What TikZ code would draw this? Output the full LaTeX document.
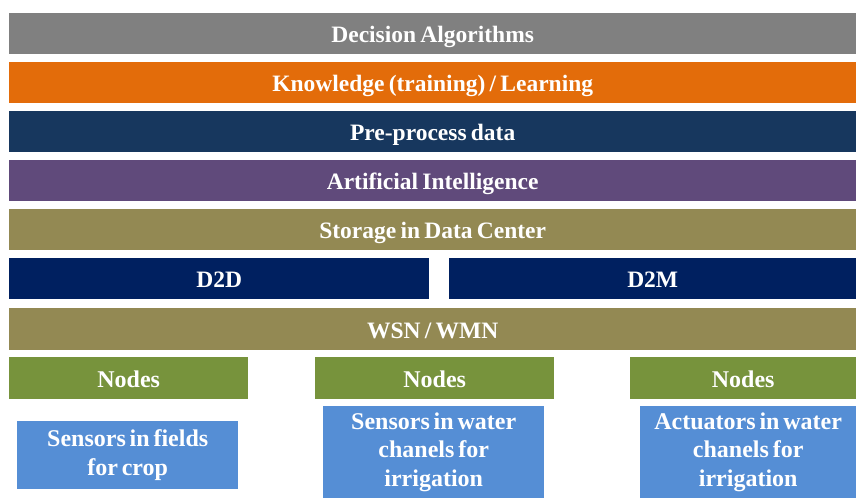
\documentclass[tikz,border=0pt]{standalone}
\usepackage{fontspec}
\setmainfont{Liberation Serif}
\usetikzlibrary{positioning}

\definecolor{barGray}{HTML}{808080}
\definecolor{barOrange}{HTML}{E36C0A}
\definecolor{barSteel}{HTML}{17375E}
\definecolor{barPurple}{HTML}{604A7B}
\definecolor{barOlive}{HTML}{938953}
\definecolor{barNavy}{HTML}{002060}
\definecolor{barGreen}{HTML}{77933C}
\definecolor{barBlue}{HTML}{558ED5}

\newcommand\layerfont{\bfseries\fontsize{23.5}{28}\selectfont\spaceskip 0.18em plus 0.05em\relax}
\newcommand\devicefont{\bfseries\fontsize{24}{28.5}\selectfont\spaceskip 0.16em plus 0.05em\relax}

\tikzset{
    layer/.style={anchor=north west, inner sep=0pt, text=white,
        text height=18pt, text depth=0pt, font=\layerfont},
    device/.style={layer, font=\devicefont},
    field/.style={anchor=north west, inner sep=0pt, text=white,
        fill=barBlue, align=center, font=\devicefont}
}

\begin{document}
\begin{tikzpicture}[x=1pt,y=-1pt]
    \useasboundingbox (0,0) rectangle (856,498);

    % upper layers
    \node[layer, fill=barGray,   minimum width=847, minimum height=41] (dec)  at (9,13)  {Decision Algorithms};
    \node[layer, fill=barOrange, minimum width=847, minimum height=41] (know) at (9,62)  {Knowledge (training) / Learning};
    \node[layer, fill=barSteel,  minimum width=847, minimum height=41] (pre)  at (9,111) {Pre-process data};
    \node[layer, fill=barPurple, minimum width=847, minimum height=41] (ai)   at (9,160) {Artificial Intelligence};
    \node[layer, fill=barOlive,  minimum width=847, minimum height=41] (dc)   at (9,209) {Storage in Data Center};

    % communication
    \node[layer, fill=barNavy,   minimum width=420, minimum height=41] (d2d)  at (9,258)   {D2D};
    \node[layer, fill=barNavy,   minimum width=407, minimum height=41] (d2m)  at (449,258) {D2M};
    \node[layer, fill=barOlive,  minimum width=847, minimum height=42] (wsn)  at (9,308)   {WSN / WMN};

    % nodes
    \node[device, fill=barGreen, minimum width=239, minimum height=42] (nodeA) at (9,357)   {Nodes};
    \node[device, fill=barGreen, minimum width=239, minimum height=42] (nodeB) at (315,357) {Nodes};
    \node[device, fill=barGreen, minimum width=226, minimum height=42] (nodeC) at (630,357) {Nodes};

    % field devices
    \node[field, minimum width=221, minimum height=68] (sensA) at (17,421)  {Sensors in fields\\for crop};
    \node[field, minimum width=221, minimum height=92] (sensB) at (323,406) {Sensors in water\\chanels for\\irrigation};
    \node[field, minimum width=216, minimum height=92] (actC)  at (640,406) {Actuators in water\\chanels for\\irrigation};
\end{tikzpicture}
\end{document}
